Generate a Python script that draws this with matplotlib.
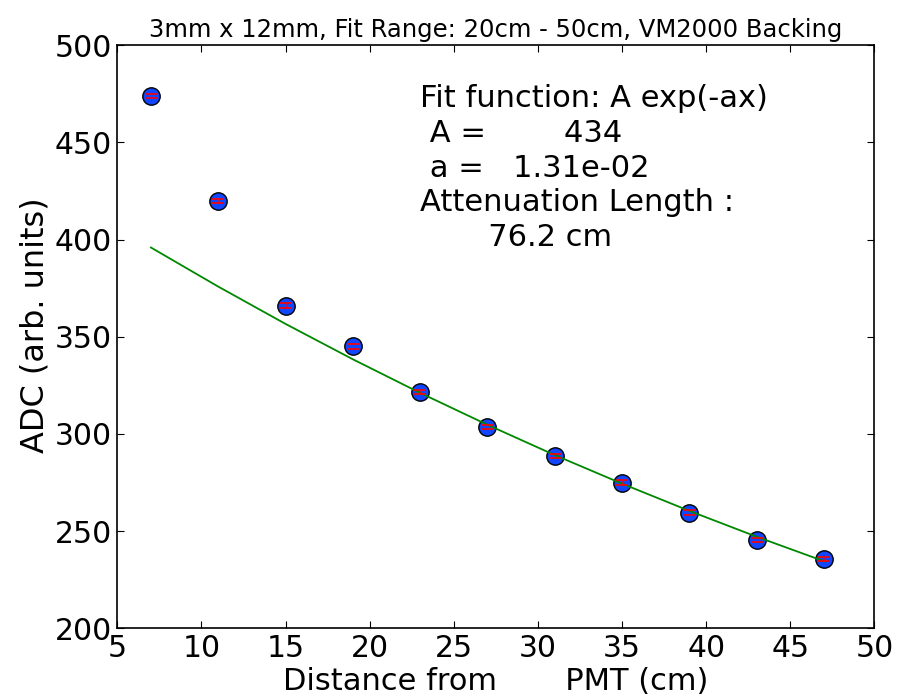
import matplotlib

matplotlib.use("Agg")
import matplotlib.pyplot as plt

# measured points (distance from PMT, ADC)
distance = [7, 11, 15, 19, 23, 27, 31, 35, 39, 43, 47]
adc = [474, 420, 366, 345, 321.5, 303.5, 288.5, 275, 259.5, 245.5, 235.5]
adc_err = [1.1, 1.1, 1.1, 1.1, 1.1, 1.1, 1.1, 1.1, 1.1, 1.1, 1.1]

# fitted curve A exp(-ax), read at the measured distances
fit_y = [395.9, 375.8, 356.6, 338.4, 321.1, 304.7, 289.1, 274.4, 260.4, 247.1, 234.5]

title = "3mm x 12mm, Fit Range: 20cm - 50cm, VM2000 Backing"
fit_text = ("Fit function: A exp(-ax)\n A =        434\n a =   1.31e-02\n"
            "Attenuation Length :\n       76.2 cm")

plt.rcParams["font.family"] = ["DejaVu Sans"]
fig = plt.figure(figsize=(9.09, 6.95), dpi=100)
ax = fig.add_axes([0.129, 0.096, 0.833, 0.839])

ax.plot(distance, adc, "o", markersize=12.5, markerfacecolor="#1146ff",
        markeredgecolor="black", markeredgewidth=1.0, zorder=2)
# fit line sits over the markers, error caps on top of both
ax.plot(distance, fit_y, color="#008800", linewidth=1.3, zorder=3)
ax.errorbar(distance, adc, yerr=adc_err, fmt="none", ecolor="red",
            elinewidth=0.4, capsize=4, capthick=1.2, zorder=4)

ax.set_xlim(5, 50)
ax.set_ylim(200, 500)
ax.set_xticks(range(5, 51, 5))
ax.set_yticks(range(200, 501, 50))
ax.tick_params(direction="in", top=True, right=True, length=5, width=0.8,
               labelsize=21.5, pad=4)
for side in ax.spines.values():
    side.set_linewidth(1.2)

ax.set_xlabel("Distance from       PMT (cm)", fontsize=22, labelpad=3)
ax.set_ylabel("ADC (arb. units)", fontsize=23)
ax.yaxis.set_label_coords(-0.088, 0.52)
ax.set_title(title, fontsize=17.5, pad=6)

ax.text(23.0, 480, fit_text, fontsize=22, va="top", ha="left",
        linespacing=1.25)

fig.savefig("out.png", dpi=100)
